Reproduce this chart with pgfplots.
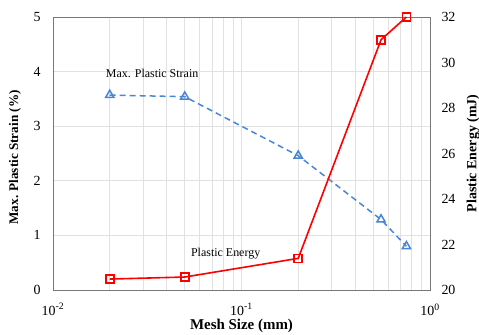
\documentclass[border=0pt]{standalone}
\usepackage{pgfplots}
\pgfplotsset{compat=1.18}
\usepackage{fontspec}
\setmainfont{Liberation Serif}
\definecolor{sblue}{RGB}{74,134,214}
\definecolor{sred}{RGB}{255,0,0}
\definecolor{gridc}{RGB}{225,225,225}
\definecolor{framec}{RGB}{120,120,120}
\begin{document}
\begin{tikzpicture}
\begin{axis}[name=ax,
  scale only axis, width=377bp, height=273bp,
  xmode=log, xmin=0.01, xmax=1,
  tick style={draw=none},
  ticklabel style={font=\fontsize{14}{16}\selectfont},
  yticklabel style={xshift=-9bp},
  xticklabel style={yshift=-10bp},
  /pgf/number format/assume math mode=true,
  axis line style={framec, line width=0.8pt},
  ymin=0, ymax=5, ytick={0,1,2,3,4,5},
  xtick={0.01,0.1,1},
  xticklabels={10\textsuperscript{-2},10\textsuperscript{-1},10\textsuperscript{0}},
  grid=both,
  major grid style={gridc, line width=0.7pt},
  minor grid style={gridc, line width=0.7pt},
  minor x tick num=8,
  xlabel={Mesh Size (mm)},
  ylabel={Max. Plastic Strain (\%)},
  xlabel style={font=\bfseries\fontsize{15}{17}\selectfont, at={(rel axis cs:0.5,0)}, anchor=center, yshift=-36bp},
  ylabel style={font=\bfseries\fontsize{13.2}{15}\selectfont, at={(rel axis cs:0,0.5)}, anchor=center, yshift=38bp, xshift=-4bp},
]
\addplot[sblue, line width=1.5bp, dash pattern=on 6bp off 4bp,
  mark=triangle, mark size=4.8bp,
  mark options={solid, fill=white, line width=1.5bp}]
  coordinates {(0.02,3.57) (0.05,3.54) (0.2,2.46) (0.55,1.29) (0.75,0.80)};
\node[font=\fontsize{12}{14}\selectfont] at (rel axis cs:0.263,0.795) {Max. Plastic Strain};
\node[font=\fontsize{12}{14}\selectfont] at (rel axis cs:0.458,0.132) {Plastic Energy};
\end{axis}
\begin{axis}[
  scale only axis, width=377bp, height=273bp,
  xmode=log, xmin=0.01, xmax=1,
  tick style={draw=none},
  ticklabel style={font=\fontsize{14}{16}\selectfont},
  yticklabel style={xshift=8bp},
  /pgf/number format/assume math mode=true,
  axis line style={framec, line width=0.8pt},
  axis x line=none,
  axis y line*=right,
  ymin=20, ymax=32, ytick={20,22,24,26,28,30,32},
  ylabel={Plastic Energy (mJ)},
  ylabel style={font=\bfseries\fontsize{14}{16}\selectfont, at={(rel axis cs:1,0.5)}, anchor=center, yshift=-43bp},
]
\addplot[sred, line width=1.6bp, mark=square, mark size=4bp,
  mark options={solid, fill=white, line width=1.6bp}]
  coordinates {(0.02,20.48) (0.05,20.57) (0.2,21.39) (0.55,31.0) (0.75,32.0)};
\end{axis}
\pgfresetboundingbox
\path ([xshift=-53bp,yshift=-45bp]ax.south west) rectangle ([xshift=49bp,yshift=17bp]ax.north east);
\end{tikzpicture}
\end{document}
